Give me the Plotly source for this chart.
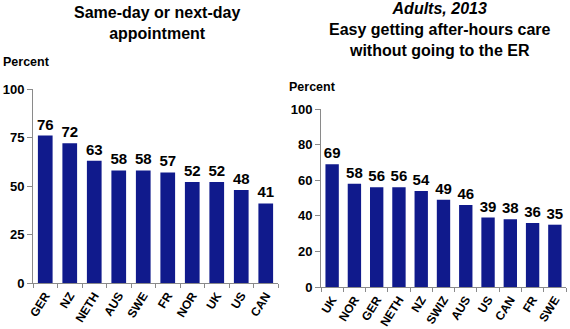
import plotly.graph_objects as go

# Same-day or next-day appointment
appt_countries = ["GER", "NZ", "NETH", "AUS", "SWE", "FR", "NOR", "UK", "US", "CAN"]
appt_values = [76, 72, 63, 58, 58, 57, 52, 52, 48, 41]

# Easy getting after-hours care without going to the ER (adults, 2013)
afterhours_countries = ["UK", "NOR", "GER", "NETH", "NZ", "SWIZ", "AUS", "US", "CAN", "FR", "SWE"]
afterhours_values = [69, 58, 56, 56, 54, 49, 46, 39, 38, 36, 35]

left_ticks = [0, 25, 50, 75, 100]
right_ticks = [0, 20, 40, 60, 80, 100]

FONT = "Liberation Sans, Arial, sans-serif"
BAR = "#101a8c"
AXIS = "#8a8a8a"

fig = go.Figure()

for xs, ys, xa, ya in [(appt_countries, appt_values, "x", "y"),
                       (afterhours_countries, afterhours_values, "x2", "y2")]:
    fig.add_trace(go.Bar(
        x=xs, y=ys, xaxis=xa, yaxis=ya,
        marker=dict(color=BAR, line=dict(width=0)), width=0.6,
        text=[f"<b>{v}</b>" for v in ys], textposition="outside",
        constraintext="none",
        textfont=dict(family=FONT, size=15, color="black"), cliponaxis=False,
    ))

xcommon = dict(
    showgrid=False, showline=True, linecolor=AXIS, linewidth=1,
    ticks="outside", tickson="boundaries", ticklen=4, tickcolor=AXIS,
    tickangle=-58, tickfont=dict(family=FONT, size=12, color="black"),
    fixedrange=True, automargin=False,
)
ycommon = dict(
    showgrid=False, zeroline=False, showline=True, linecolor=AXIS, linewidth=1,
    ticks="outside", ticklen=5, tickcolor=AXIS, range=[0, 100],
    tickfont=dict(family=FONT, size=13, color="black"), fixedrange=True,
    automargin=False,
)

fig.update_layout(
    width=570, height=329,
    margin=dict(l=0, r=0, t=0, b=0, autoexpand=False),
    paper_bgcolor="white", plot_bgcolor="white",
    showlegend=False,
    font=dict(family=FONT, color="black"),
    xaxis=dict(domain=[33 / 570, 278 / 570], anchor="y",
               tickvals=appt_countries,
               ticktext=[f"<b>{c}</b>" for c in appt_countries], **xcommon),
    yaxis=dict(domain=[(329 - 283) / 329, (329 - 89) / 329], anchor="x",
               tickvals=left_ticks,
               ticktext=[f"<b>{t}</b>" for t in left_ticks], **ycommon),
    xaxis2=dict(domain=[321 / 570, 566 / 570], anchor="y2",
                tickvals=afterhours_countries,
                ticktext=[f"<b>{c}</b>" for c in afterhours_countries], **xcommon),
    yaxis2=dict(domain=[(329 - 287) / 329, (329 - 109) / 329], anchor="x2",
                tickvals=right_ticks,
                ticktext=[f"<b>{t}</b>" for t in right_ticks], **ycommon),
)

annotations = [
    dict(text="<b>Same-day or next-day<br>appointment</b>", x=157, y=2,
         size=16),
    dict(text="<b><i>Adults, 2013</i></b><br><b>Easy getting after-hours care<br>without going to the ER</b>",
         x=440, y=-2, size=16),
    dict(text="<b>Percent</b>", x=1, y=53, xanchor="left", size=12.5),
    dict(text="<b>Percent</b>", x=287, y=78, xanchor="left", size=12.5),
]
for a in annotations:
    fig.add_annotation(
        text=a["text"], xref="paper", yref="paper",
        x=a["x"] / 570, y=1 - a["y"] / 329,
        xanchor=a.get("xanchor", "center"), yanchor="top",
        showarrow=False, align="center",
        font=dict(family=FONT, color="black", size=a["size"]),
    )

fig.write_html("out.html")
